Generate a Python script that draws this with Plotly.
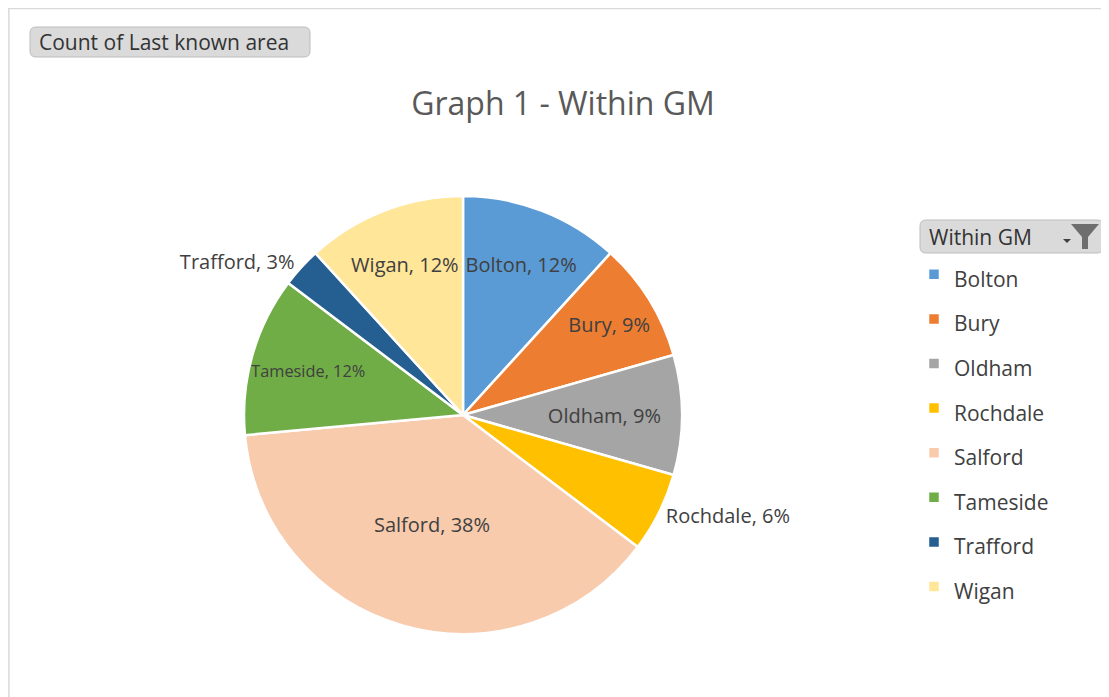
import plotly.graph_objects as go

categories = ["Bolton", "Bury", "Oldham", "Rochdale", "Salford", "Tameside", "Trafford", "Wigan"]
counts = [4, 3, 3, 2, 13, 4, 1, 4]
colors = ["#5B9BD5", "#ED7D31", "#A5A5A5", "#FFC000", "#F8CBAD", "#70AD47", "#255E91", "#FFE699"]
text_positions = ["inside", "inside", "inside", "outside", "inside", "inside", "outside", "inside"]

title_text = "Graph 1 - Within GM"
field_button = "Count of Last known area"
legend_button = "Within GM"

FONT = "'Open Sans', sans-serif"
TXT = "#404040"
OFF = 8               # page body margin
W, H = 1101, 689      # figure size


def px(x):
    return (x - OFF) / W


def py(y):
    return 1 - (y - OFF) / H


def rrect(x0, y0, x1, y1, r):
    # rounded rectangle path in page pixel coords -> paper coords
    pts = [
        f"M {px(x0 + r)},{py(y0)}",
        f"L {px(x1 - r)},{py(y0)}",
        f"Q {px(x1)},{py(y0)} {px(x1)},{py(y0 + r)}",
        f"L {px(x1)},{py(y1 - r)}",
        f"Q {px(x1)},{py(y1)} {px(x1 - r)},{py(y1)}",
        f"L {px(x0 + r)},{py(y1)}",
        f"Q {px(x0)},{py(y1)} {px(x0)},{py(y1 - r)}",
        f"L {px(x0)},{py(y0 + r)}",
        f"Q {px(x0)},{py(y0)} {px(x0 + r)},{py(y0)}",
        "Z",
    ]
    return " ".join(pts)


legend_labels = [f"<span style='font-size:21px'>{c}</span>" for c in categories]
label_sizes = [20 if c != "Tameside" else 18 for c in categories]

fig = go.Figure(go.Pie(
    labels=legend_labels,
    values=counts,
    customdata=categories,
    sort=False,
    direction="clockwise",
    rotation=0,
    marker=dict(colors=colors, line=dict(color="white", width=2.5)),
    texttemplate="%{customdata}, %{percent:.0%}",
    hovertemplate="%{customdata}: %{value}<extra></extra>",
    textposition=text_positions,
    insidetextorientation="horizontal",
    textfont=dict(family=FONT, size=label_sizes, color=TXT),
    outsidetextfont=dict(family=FONT, size=20, color=TXT),
    domain=dict(x=[px(244), px(682)], y=[py(634), py(196)]),
))

fig.update_layout(
    width=W, height=H,
    margin=dict(l=0, r=0, t=0, b=0),
    paper_bgcolor="white",
    font=dict(family=FONT, color=TXT),
    title=dict(text=title_text, x=px(563), xanchor="center", y=py(104), yanchor="middle",
               font=dict(family=FONT, size=32, color="#595959")),
    showlegend=True,
    legend=dict(x=px(914), xanchor="left", y=py(247), yanchor="top",
                font=dict(family=FONT, size=32, color=TXT),
                valign="middle", itemclick=False, bgcolor="rgba(0,0,0,0)"),
    shapes=[
        # chart area border (left and top edges)
        dict(type="line", xref="paper", yref="paper", x0=0.0008, x1=0.0008, y0=0, y1=1,
             line=dict(color="#D9D9D9", width=1.5)),
        dict(type="line", xref="paper", yref="paper", x0=0, x1=1, y0=0.9992, y1=0.9992,
             line=dict(color="#D9D9D9", width=1.5)),
        # field buttons
        dict(type="path", xref="paper", yref="paper", path=rrect(30, 27, 310, 57, 6),
             line=dict(color="#BDBDBD", width=1), fillcolor="#DADADA", layer="below"),
        dict(type="path", xref="paper", yref="paper", path=rrect(920, 220, 1103, 253, 6),
             line=dict(color="#BDBDBD", width=1), fillcolor="#DADADA", layer="below"),
        # funnel icon
        dict(type="path", xref="paper", yref="paper",
             path=f"M {px(1071)},{py(224)} L {px(1099)},{py(224)} L {px(1088)},{py(237)} L {px(1088)},{py(249)} L {px(1082)},{py(249)} L {px(1082)},{py(237)} Z",
             line=dict(color="#707070", width=0), fillcolor="#6E6E6E"),
        dict(type="path", xref="paper", yref="paper",
             path=f"M {px(1063)},{py(239)} L {px(1071)},{py(239)} L {px(1067)},{py(243)} Z",
             line=dict(color="#404040", width=0), fillcolor="#404040"),
    ],
    annotations=[
        dict(text=field_button, xref="paper", yref="paper", x=px(37), y=py(42), xanchor="left", yanchor="middle",
             showarrow=False, font=dict(family=FONT, size=21, color="#333333")),
        dict(text=legend_button, xref="paper", yref="paper", x=px(927), y=py(237), xanchor="left", yanchor="middle",
             showarrow=False, font=dict(family=FONT, size=21, color="#333333")),
    ],
)

fig.write_html("out.html")
